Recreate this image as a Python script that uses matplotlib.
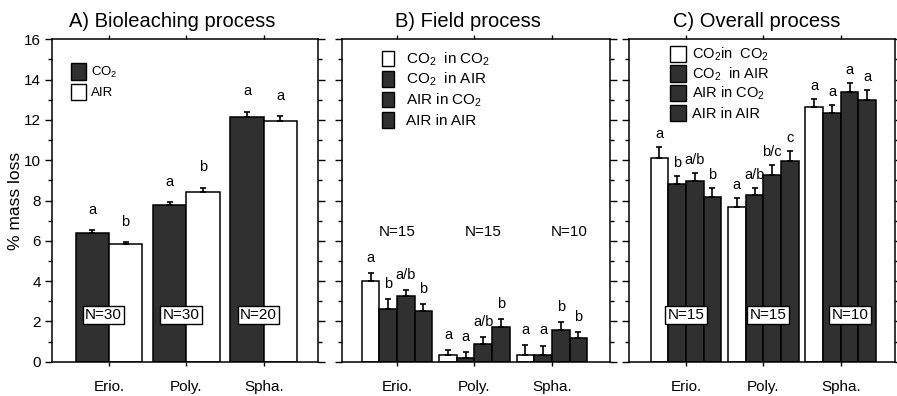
import matplotlib
matplotlib.use("Agg")
import matplotlib.pyplot as plt
import numpy as np
from matplotlib.patches import Patch
from matplotlib.ticker import MultipleLocator

plt.rcParams['font.family'] = ['Liberation Sans', 'DejaVu Sans']
plt.rcParams['mathtext.fontset'] = 'custom'
plt.rcParams['mathtext.rm'] = 'Liberation Sans'
plt.rcParams['mathtext.it'] = 'Liberation Sans'

categories = ['Erio.', 'Poly.', 'Spha.']

# Panel A: bioleaching
A_co2 = [6.40, 7.78, 12.14]
A_co2_err = [0.13, 0.16, 0.27]
A_air = [5.82, 8.40, 11.95]
A_air_err = [0.10, 0.24, 0.24]
A_letters_co2 = ['a', 'a', 'a']
A_letters_air = ['b', 'b', 'a']
A_n = ['N=30', 'N=30', 'N=20']

# Panel B: field
B_cc = [4.00, 0.31, 0.33]
B_cc_err = [0.38, 0.27, 0.48]
B_ca = [2.61, 0.20, 0.33]
B_ca_err = [0.50, 0.30, 0.47]
B_ac = [3.26, 0.86, 1.57]
B_ac_err = [0.30, 0.38, 0.38]
B_aa = [2.53, 1.70, 1.19]
B_aa_err = [0.33, 0.40, 0.30]
B_letters = [['a', 'a', 'a'], ['b', 'a', 'a'], ['a/b', 'a/b', 'b'], ['b', 'b', 'b']]
B_n = ['N=15', 'N=15', 'N=10']

# Panel C: overall
C_cc = [10.09, 7.69, 12.66]
C_cc_err = [0.58, 0.45, 0.38]
C_ca = [8.83, 8.27, 12.36]
C_ca_err = [0.39, 0.33, 0.38]
C_ac = [8.97, 9.28, 13.37]
C_ac_err = [0.38, 0.48, 0.48]
C_aa = [8.19, 9.96, 12.99]
C_aa_err = [0.41, 0.51, 0.49]
C_letters = [['a', 'a', 'a'], ['b', 'a/b', 'a'], ['a/b', 'b/c', 'a'], ['b', 'c', 'a']]
C_n = ['N=15', 'N=15', 'N=10']

DARK = '#303030'
W, H = 897, 396
fig = plt.figure(figsize=(W / 100, H / 100), dpi=100)

def ax_at(l, r, t, b):
    return fig.add_axes([l / W, 1 - b / H, (r - l) / W, (b - t) / H])

axA = ax_at(52, 318, 39.3, 361.7)
axB = ax_at(342, 610, 39.3, 361.7)
axC = ax_at(629, 895, 39.3, 361.7)

x = np.arange(len(categories))

def style(ax, xlim, left_labels):
    ax.set_ylim(0, 16)
    ax.set_xlim(*xlim)
    ax.yaxis.set_major_locator(MultipleLocator(2))
    ax.yaxis.set_minor_locator(MultipleLocator(1))
    ax.set_xticks(x)
    ax.set_xticklabels(categories)
    ax.tick_params(axis='both', which='both', direction='out', top=True, right=True,
                   width=1.0, labelsize=11)
    ax.tick_params(axis='y', which='major', length=5, pad=3)
    ax.tick_params(axis='y', which='minor', length=3)
    ax.tick_params(axis='x', which='major', length=3, pad=10)
    if not left_labels:
        ax.tick_params(axis='y', labelleft=False)
    for s in ax.spines.values():
        s.set_linewidth(1.1)

def bars(ax, vals, errs, offs, width, colors, letters, loff):
    for v, e, o, c, lt in zip(vals, errs, offs, colors, letters):
        pos = x + o * width
        ax.bar(pos, v, width, color=c, edgecolor='black', linewidth=1.1, zorder=2)
        ax.errorbar(pos, v, yerr=[np.zeros(len(v)), e], fmt='none', ecolor='black',
                    elinewidth=1.2, capsize=2.5, capthick=1.2, zorder=3)
        for p, vv, ee, t in zip(pos, v, e, lt):
            ax.text(p, vv + ee + loff, t, ha='center', va='center', fontsize=10.5)

# ---- Panel A
style(axA, (-0.735, 2.70), True)
wA = 0.43
bars(axA, [A_co2, A_air], [A_co2_err, A_air_err], [-0.5, 0.5], wA, [DARK, 'white'],
     [A_letters_co2, A_letters_air], 1.0)
for i, n in enumerate(A_n):
    axA.text(x[i] - 0.07, 2.32, n, ha='center', va='center', fontsize=11, zorder=4,
             bbox=dict(boxstyle='square,pad=0.15', fc='white', ec='black', lw=1.0))
axA.set_ylabel('% mass loss', fontsize=12.5)
axA.yaxis.set_label_coords(-0.11, 0.5)
axA.set_title('A) Bioleaching process', fontsize=14.5, pad=9, x=0.45)
axA.legend([Patch(fc=DARK, ec='black', lw=1.0), Patch(fc='white', ec='black', lw=1.0)],
           ['CO$_2$', 'AIR'], loc='upper left', bbox_to_anchor=(0.07, 0.925),
           frameon=False, fontsize=9.5, handlelength=1.15, handleheight=1.5,
           labelspacing=0.3, handletextpad=0.4, borderpad=0, borderaxespad=0)

four_labels_B = ['CO$_2$  in CO$_2$', 'CO$_2$  in AIR', 'AIR in CO$_2$', 'AIR in AIR']
four_labels_C = ['CO$_2$in  CO$_2$', 'CO$_2$  in AIR', 'AIR in CO$_2$', 'AIR in AIR']
four_handles = [Patch(fc='white', ec='black', lw=1.0)] + [Patch(fc=DARK, ec='black', lw=1.0)] * 3

# ---- Panel B
style(axB, (-0.71, 2.75), False)
wB = 0.228
bars(axB, [B_cc, B_ca, B_ac, B_aa], [B_cc_err, B_ca_err, B_ac_err, B_aa_err],
     [-1.5, -0.5, 0.5, 1.5], wB, ['white', DARK, DARK, DARK], B_letters, 0.75)
for i, n in enumerate(B_n):
    axB.text(x[i] + 0.11 * i, 6.42, n, ha='center', va='center', fontsize=11)
axB.set_title('B) Field process', fontsize=14.5, pad=9, x=0.47)
axB.legend(four_handles, four_labels_B, loc='upper left', bbox_to_anchor=(0.148, 0.965),
           frameon=False, fontsize=11, handlelength=0.8, handleheight=1.2,
           labelspacing=0.2, handletextpad=0.8, borderpad=0, borderaxespad=0)

# ---- Panel C
style(axC, (-0.735, 2.70), False)
bars(axC, [C_cc, C_ca, C_ac, C_aa], [C_cc_err, C_ca_err, C_ac_err, C_aa_err],
     [-1.5, -0.5, 0.5, 1.5], wB, ['white', DARK, DARK, DARK], C_letters, 0.65)
for i, n in enumerate(C_n):
    axC.text(x[i] + 0.06 * i, 2.32, n, ha='center', va='center', fontsize=11, zorder=4,
             bbox=dict(boxstyle='square,pad=0.15', fc='white', ec='black', lw=1.0))
axC.set_title('C) Overall process', fontsize=14.5, pad=9, x=0.48)
axC.legend(four_handles, four_labels_C, loc='upper left', bbox_to_anchor=(0.155, 0.98),
           frameon=False, fontsize=10.5, handlelength=1.05, handleheight=1.35,
           labelspacing=0.15, handletextpad=0.45, borderpad=0, borderaxespad=0)

fig.savefig('out.png', dpi=100)
